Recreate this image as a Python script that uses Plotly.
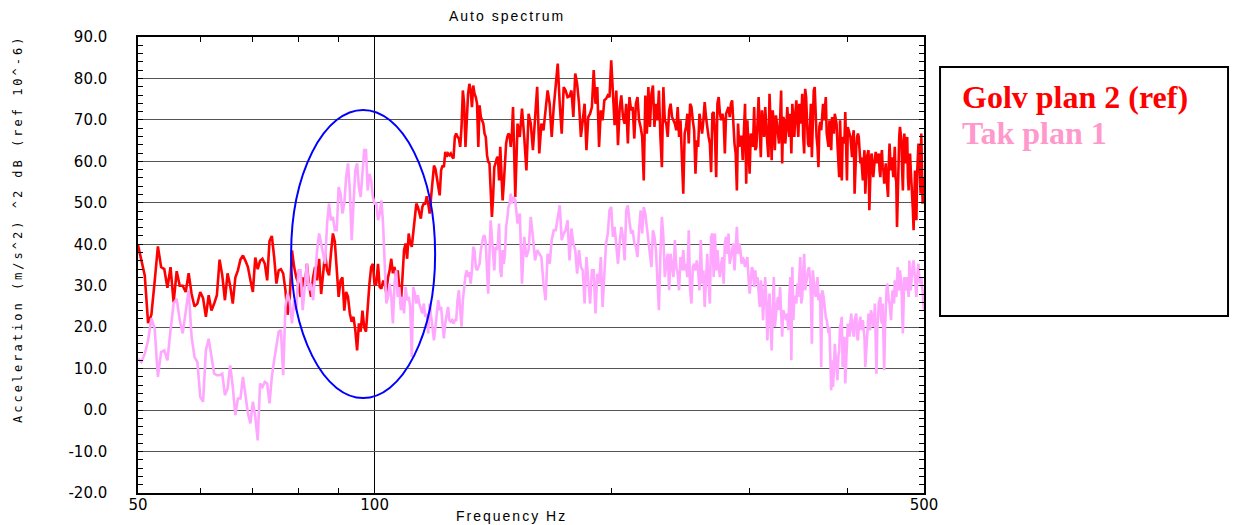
import numpy as np
import plotly.graph_objects as go

# Frequency grid: 0.5 Hz resolution up to 150 Hz, 1 Hz above
freq_fine = np.arange(50.0, 150.01, 0.5)
freq_coarse = np.arange(151.0, 500.01, 1.0)

# Golv plan 2 (ref) - auto spectrum, dB
golv_fine = [
    39.8, 36, 32.5, 21, 23, 31, 39.5, 34.5, 34, 29.5,
    34.5, 26, 33.5, 30, 30, 28.5, 33, 28, 25, 25.7,
    28.5, 27, 22.5, 27.7, 24, 25.7, 27.7, 36.3, 32.5, 26.5,
    33, 30, 25.7, 32, 33.7, 36.3, 37.3, 36, 34.5, 31.3,
    28.5, 36.8, 34, 36, 36.5, 35.3, 31.3, 40.8, 42,
    37, 30.5, 33.7, 34, 33, 29, 23, 27.3, 38.5, 34.5,
    32, 30.5, 27.3, 32, 29.7, 35.3, 30.5, 27.3, 32, 34.5,
    31.3, 36.5, 28, 33.7, 37.8, 33.7, 32.5, 37.8, 42.6, 40.6,
    34.5, 27.3, 31.3, 32, 24, 28.5, 27.3, 23.3, 21.3, 22.5,
    19.3, 14.4, 20.9, 18.9, 24, 20, 18.9, 25.7, 30.5, 34.5,
    35.3, 30.1, 30.5, 35.3, 29.7, 29.3, 31, 31, 28.1, 32,
    33.7, 36.5, 33, 34.5, 32, 33.7, 29, 25.7,
    32, 38.6, 40.2, 36.5, 42.6, 40.2, 39.4, 43.4, 46.6, 49.8,
    49, 47.4, 46.2, 49, 49.8, 49.8, 51.6, 49.8, 47.4, 51.4,
    54.6, 59, 58.2, 56.2, 53.8, 51.8, 57.8, 59, 58.6, 62.3,
    61.1, 61.9, 61.5, 61.9, 61.1, 60.7, 65.9, 66.7, 65.9, 65.5,
    63.5, 68.3, 77.1, 73.9, 63.5, 69.9, 76.3, 78.7, 77.1, 73.1,
    78.3, 76.3, 75.5, 73.9, 63.5, 73.5, 70.7, 69.9, 69.1, 66.7,
    65.9, 61.5, 59.9, 59.5, 53, 46.6, 51.4, 58.6, 59.5, 60.7,
    61.1, 55.4, 63.5, 56.2, 50.6, 54.6, 60.3, 64.3, 65.9, 66.7,
    66.3, 63.5, 66.7, 73.1,
]
golv_coarse = [
    51.4, 69.1, 65.9, 72.7, 65.9, 57.8, 71.5, 69.1,
    62.7, 70, 78, 61.9, 69.1, 67.5, 71.9, 77.1, 73.9, 65.9,
    73.1, 79.1, 83.6, 73.9, 66.7, 77.9, 77.1, 75.5, 75.7, 77.1,
    70.7, 81.2, 78.7, 73.9, 65.9, 69.9, 73.9, 62.7, 70.7, 71.5,
    73.1, 82, 73.9, 77.9, 63.5, 72.3, 69.9, 74.7, 75.1, 75.9,
    75.5, 84.4, 77.9, 68.7, 77.1, 63.9, 72.7, 75.9, 70.7, 69.1,
    73.9, 64.3, 75.5, 72.3, 73.1, 65.5, 73.9, 75.5, 69.9, 68.3,
    65.9, 55.4, 75.9, 66.7, 77.9, 68.3, 76.3, 78.3, 68.3, 73.9,
    69.9, 77.1, 65.9, 58.6,
    77.9, 69.9, 69.1, 65.9, 72.3, 73.9, 70.7, 69.9, 69.1, 67.5,
    73.1, 65.9, 69.9, 61, 52.2, 66.7, 68.3, 71.5, 64.3, 73.9,
    73.1, 69.9, 67.5, 57, 65.1, 63.5, 71.5, 69.1, 66.7, 69.9,
    74.3, 70.7, 67.5, 65.9, 64.3, 57.4, 71.5, 71.9, 66.7, 56.2,
    73.9, 75.5, 71.5, 69.9, 71.5, 69.9, 61.9, 71.5, 72.3, 73.1,
    70.7, 73.9, 74.7, 69.1, 64.3, 61.9, 53, 69.1, 63.5, 65.9,
    65.9, 60.3, 69.9, 73.9, 54.6, 69.9, 63.5, 57, 66.7, 65.9,
    63.5, 73.1, 62.7, 63.5, 69.1, 75.5, 67.5, 61, 72.3, 67.5,
    65.9, 73.1, 67.5, 64.3, 61, 76.3, 69.1, 60.3, 72.3, 69.1,
    62.7, 71.1, 69.1, 66.7, 64.3, 69.9, 77.1, 59.5, 70.7, 69.9,
    64.3, 67.5, 73.1, 69.1, 65.9, 71.5, 61.9,
    73.9, 70.7, 65.9, 71.5, 74.7, 69.9, 65.9, 73.9, 69.1, 70.7,
    76.3, 65.9, 61.9, 77.5, 75.5, 69.1, 64.3, 63.5, 70.7, 73.9,
    61, 74.3, 77.1, 77.9, 69.9, 65.9, 63.5, 58.6, 68.3, 69.5,
    67.5, 71.5, 73.9, 69.9, 73.1, 75.5, 66.7, 65.1, 63.5, 69.9,
    64.3, 62.7, 70.7, 68.3, 66.7, 71.5, 69.9, 69.1, 64.3, 61,
    56.2, 69.9, 63.5, 55.4, 65.9, 65.1, 64.3, 71.9, 63.5, 55.4,
    68.3, 67.5, 66.7, 65.9, 63.5, 61, 65.9, 67.5, 52.2, 59.5,
    63.5, 65.9, 66.7, 65.9, 61.9, 59.5, 61, 57.8, 55.4, 59.5,
    62.7, 52.2, 57.8, 61, 61.9, 62.7, 48.2, 57.8, 61, 61.9,
    59.5, 56.2, 58.6, 60.3, 62.3, 61, 59.5, 61, 61.9, 57.8,
    56.2, 61, 62.7, 58.6, 57.8, 54.6, 57.8, 59.5, 56.2, 53.8,
    51.4, 59.5, 64.3, 60.3, 57.8, 61, 58.6, 56.2, 59.5, 63.5,
    56.2, 55, 44.2, 52, 62.7, 65.9, 68.3, 66.7, 65.1, 57.8,
    53, 61.9, 66.7, 62.7, 59.5, 63.5, 65.9, 56.2, 53, 61,
    61.9, 57.8, 55.4, 52.2, 48.2, 43.4, 51.4, 57.8, 49.8, 45.8,
    57, 59.5, 64.3, 61, 56.2, 52.2, 66.7, 61, 49.8, 53, 56.2,
]

# Tak plan 1 - auto spectrum, dB
tak_fine = [
    12.4, 11.6, 13.6, 16.8, 22.1, 19.7, 8, 14, 14.4, 12,
    19.3, 25.7, 26.9, 21.7, 18.5, 24.1, 28.9, 17.7, 12.8, 11.6,
    3.2, 2, 14.4, 17.2, 12.8, 8.8, 8.4, 8.4, 8.8, 3.6,
    5.2, 10.8, 5.6, -1.2, 2.8, 2.8, 8, 4, -0.8, -3.2,
    2, -1.6, -7.3, 6.4, 5.6, 6.8, 6.4, 1.6, 8,
    12, 15.2, 18.9, 19.3, 8.4, 24.9, 28.1, 26.1, 20.9, 26.5,
    24.1, 33.7, 33.7, 24.1, 30.5, 35.3, 28.9, 30.5, 26.5, 33.7,
    38.6, 42.6, 40.2, 36.9, 35.3, 45, 49.8, 45.8, 46.6, 43.4,
    43.4, 53.8, 52.2, 47.4, 49.8, 56.2, 59.5, 53, 41, 49.8,
    57.8, 59.5, 53.8, 51.4, 56.2, 62.7, 62.7, 53, 57, 55.4,
    51.4, 49.8, 49.8, 45.8, 47.4, 50.6, 45, 35.3, 25.7, 27.3,
    30.5, 27.3, 20.9, 30.5, 33.7, 27.3, 29.7, 24.1,
    27.3, 23.3, 29.7, 26.5, 27.3, 24.9, 12.8, 29.7, 28.1, 25.7,
    27.7, 25.7, 24.1, 23.3, 25.7, 22.5, 23.3, 18.5, 25.7, 22.5,
    19.3, 16.8, 20.1, 23.3, 26.5, 24.1, 24.9, 20.9, 17.3, 20.9,
    23.3, 24.9, 21.7, 21.3, 21.7, 20.9, 21.7, 21.7, 26.5, 28.9,
    24.1, 20.1, 26.5, 29.7, 32.5, 33.7, 32.1, 33.3, 30.5, 33.7,
    39.4, 38.6, 34.5, 33.7, 34.5, 35.3, 38.6, 40.2, 41.8, 42.2,
    40.2, 33.7, 28.1, 37.7, 45.8, 41.8, 36.1, 33.7, 39.4, 38.6,
    40.2, 45, 33.7, 32.1, 38.6, 35.3, 37.7, 44.2, 46.2, 49,
    49.8, 52.2, 49.8, 51.4,
]
tak_coarse = [
    50.6, 45, 47.4, 30.5, 41.8, 36.9, 38.6, 46.6,
    41.8, 36.1, 38.6, 37.7, 36.9, 30.5, 26.5, 37.7, 35.3, 41,
    43.4, 43.4, 46.6, 49.4, 41, 42.6, 43.4, 45.8, 36.1, 43.8,
    40.2, 38.6, 32.9, 38.6, 34.5, 33.7, 25.7, 36.9, 31.3, 25.7,
    33.7, 33.7, 23.3, 32.9, 30.5, 36.9, 24.9, 32.1, 40.2, 42.6,
    48.2, 49, 41.8, 44.2, 40.2, 35.3, 40.2, 44.2, 41.8, 36.1,
    48.2, 49.4, 45.4, 42.6, 43.4, 40.2, 39.4, 36.9, 43.4, 48.2,
    42.6, 49, 47.4, 44.2, 41.8, 38.6, 34.5, 43.4, 41.8, 38.6,
    29.7, 24.1, 37.7, 46.6,
    41.8, 32.1, 35.3, 37.7, 28.9, 37.7, 34.5, 32.1, 41, 34.5,
    32.9, 28.9, 36.9, 33.7, 38.6, 33.7, 35.3, 32.1, 43.4, 28.9,
    25.7, 34.5, 35.3, 33.7, 36.1, 33.7, 28.9, 41, 30.5, 33.7,
    24.9, 33.7, 37.7, 30.5, 25.7, 41.8, 42.6, 32.1, 42.6, 33.7,
    38.6, 34.5, 32.1, 35.3, 36.9, 30.5, 40.2, 41.8, 37.7, 42.6,
    35.3, 36.9, 38.6, 40.2, 33.7, 40.2, 44.2, 37.7, 40.2, 38.6,
    35.3, 36.9, 36.1, 34.5, 36.1, 36.9, 32.1, 28.1, 31.3, 34.5,
    33.7, 29.7, 33.7, 30.5, 32.1, 28.9, 24.9, 31.3, 28.9, 21.7,
    28.9, 32.1, 26.5, 16.8, 24.1, 28.1, 20.9, 14.4, 23.3, 32.1,
    20.1, 23.3, 25.7, 27.3, 24.1, 29.7, 23.3, 17.7, 24.1, 23.3,
    22.5, 21.7, 23.3, 19.3, 27.3, 32.1, 12,
    34.5, 21.7, 27.3, 27.3, 25.7, 30.5, 27.3, 32.1, 36.9, 25.7,
    27.3, 33.7, 37.7, 28.9, 30.5, 32.9, 33.7, 34.5, 32.1, 27.3,
    16, 33.7, 30.5, 28.9, 27.3, 29.7, 32.1, 26.5, 28.1, 25.7,
    10.4, 28.9, 28.1, 26.5, 24.1, 22.5, 21.7, 19.3, 18.5, 20.1,
    9.6, 4.8, 12, 5.6, 9.6, 16, 12.8, 8.8, 7.2, 12.8,
    14.4, 20.1, 20.9, 22.5, 10.4, 15.2, 17.7, 6.4, 12.8, 17.7,
    20.9, 20.1, 17.7, 20.9, 23.3, 20.1, 18.5, 17.7, 21.7, 22.5,
    23.3, 17.7, 16.8, 20.1, 21.7, 22.5, 19.3, 20.9, 21.7, 19.3,
    17.7, 10.4, 14.4, 17.7, 20.9, 23.3, 20.1, 19.3, 24.1, 23.3,
    22.5, 20.1, 21.7, 25.7, 16, 8.8, 19.3, 24.1, 25.7, 26.5,
    27.3, 21.7, 20.9, 25.7, 19.3, 9.6, 19.3, 28.1, 28.9, 30.5,
    27.3, 26.5, 25.7, 23.3, 21.7, 25.7, 28.9, 26.5, 25.7, 31.3,
    30.5, 27.3, 30.5, 34.5, 30.5, 28.9, 33.7, 32.1, 30.5, 24.1,
    18.5, 25.7, 32.1, 30.5, 28.9, 30.5, 32.1, 29.7, 27.3, 36.1,
    33.7, 28.9, 31.3, 34.5, 35.3, 36.1, 33.7, 32.1, 28.9, 27.3,
    32.1, 33.7, 35.3, 32.1, 30.5, 31.3, 32.1, 29.7, 28.9, 25.7, 24.1,
]

freq = np.concatenate([freq_fine, freq_coarse])
golv = np.array(golv_fine + golv_coarse)
tak = np.array(tak_fine + tak_coarse)

series_names = ["Golv plan 2 (ref)", "Tak plan 1"]
line_colors = ["#ff0000", "#ffa6ff"]
label_colors = ["#ff0000", "#ff99cc"]

# Highlighted region (frequency span in Hz, level span in dB)
ring_freq = [78.3, 119.4]
ring_level = [2.9, 72.4]

x_major = [50, 100, 500]
x_minor = [60, 70, 80, 90, 200, 300, 400]
y_major = list(range(-20, 91, 10))

fig = go.Figure()
fig.add_trace(go.Scatter(x=freq, y=golv, mode="lines", name=series_names[0],
                         line=dict(color=line_colors[0], width=2.6)))
fig.add_trace(go.Scatter(x=freq, y=tak, mode="lines", name=series_names[1],
                         line=dict(color=line_colors[1], width=2.6)))

fig.add_shape(type="circle", xref="x", yref="y",
              x0=ring_freq[0], x1=ring_freq[1], y0=ring_level[0], y1=ring_level[1],
              line=dict(color="#0000ff", width=2))

# Legend box with coloured series names
fig.add_shape(type="rect", xref="paper", yref="paper",
              x0=1.0204, x1=1.3868, y0=0.388, y1=0.934,
              line=dict(color="black", width=2), fillcolor="white", layer="below")
for i, (name, col) in enumerate(zip(series_names, label_colors)):
    fig.add_annotation(xref="paper", yref="paper", x=1.0458, y=0.868 - i * 0.078,
                       xanchor="left", yanchor="middle", showarrow=False,
                       text="<b>%s</b>" % name,
                       font=dict(family="Liberation Serif, Times New Roman, serif",
                                 size=32, color=col))

spaced = '<span style="letter-spacing:%spx">%s</span>'
fig.add_annotation(xref="paper", yref="paper", x=0.4695, y=1.046, showarrow=False,
                   xanchor="center", yanchor="middle",
                   text=spaced % (2, "Auto spectrum"),
                   font=dict(family="Liberation Sans, Arial", size=14, color="black"))
fig.add_annotation(xref="paper", yref="paper", x=0.4758, y=-0.0504, showarrow=False,
                   xanchor="center", yanchor="middle",
                   text=spaced % (2, "Frequency Hz"),
                   font=dict(family="Liberation Sans, Arial", size=14, color="black"))
fig.add_annotation(xref="paper", yref="paper", x=-0.1527, y=0.581, showarrow=False,
                   xanchor="center", yanchor="middle", textangle=-90,
                   text=spaced % (3, "Acceleration (m/s^2) ^2 dB (ref 10^-6)"),
                   font=dict(family="DejaVu Sans Mono", size=12, color="black"))

tick_font = dict(family="DejaVu Sans, Liberation Sans", size=15, color="black")
fig.update_layout(
    width=1233, height=525,
    margin=dict(l=138, r=309, t=37, b=32),
    paper_bgcolor="white", plot_bgcolor="white",
    showlegend=False,
    xaxis=dict(type="log", range=[np.log10(50), np.log10(500)],
               tickmode="array", tickvals=x_major, ticktext=[str(v) for v in x_major],
               ticks="", showgrid=True, gridcolor="black", gridwidth=1,
               showline=True, linecolor="black", linewidth=1.5, mirror="ticks",
               minor=dict(tickmode="array", tickvals=x_minor, ticks="inside",
                          ticklen=5, tickcolor="black", showgrid=False),
               tickfont=tick_font, ticklabelstandoff=-3,
               zeroline=False, automargin=False),
    yaxis=dict(range=[-20, 90], tickmode="array", tickvals=y_major,
               ticktext=["%.1f" % v for v in y_major],
               showgrid=True, gridcolor="#555555", gridwidth=1.2,
               ticks="inside", ticklen=5, tickcolor="black",
               minor=dict(dtick=2, ticks="inside", ticklen=5, tickcolor="black",
                          showgrid=False),
               showline=True, linecolor="black", linewidth=1.5, mirror="ticks",
               ticklabelstandoff=26, tickfont=tick_font, zeroline=False,
               automargin=False),
)

fig.write_html("out.html")
